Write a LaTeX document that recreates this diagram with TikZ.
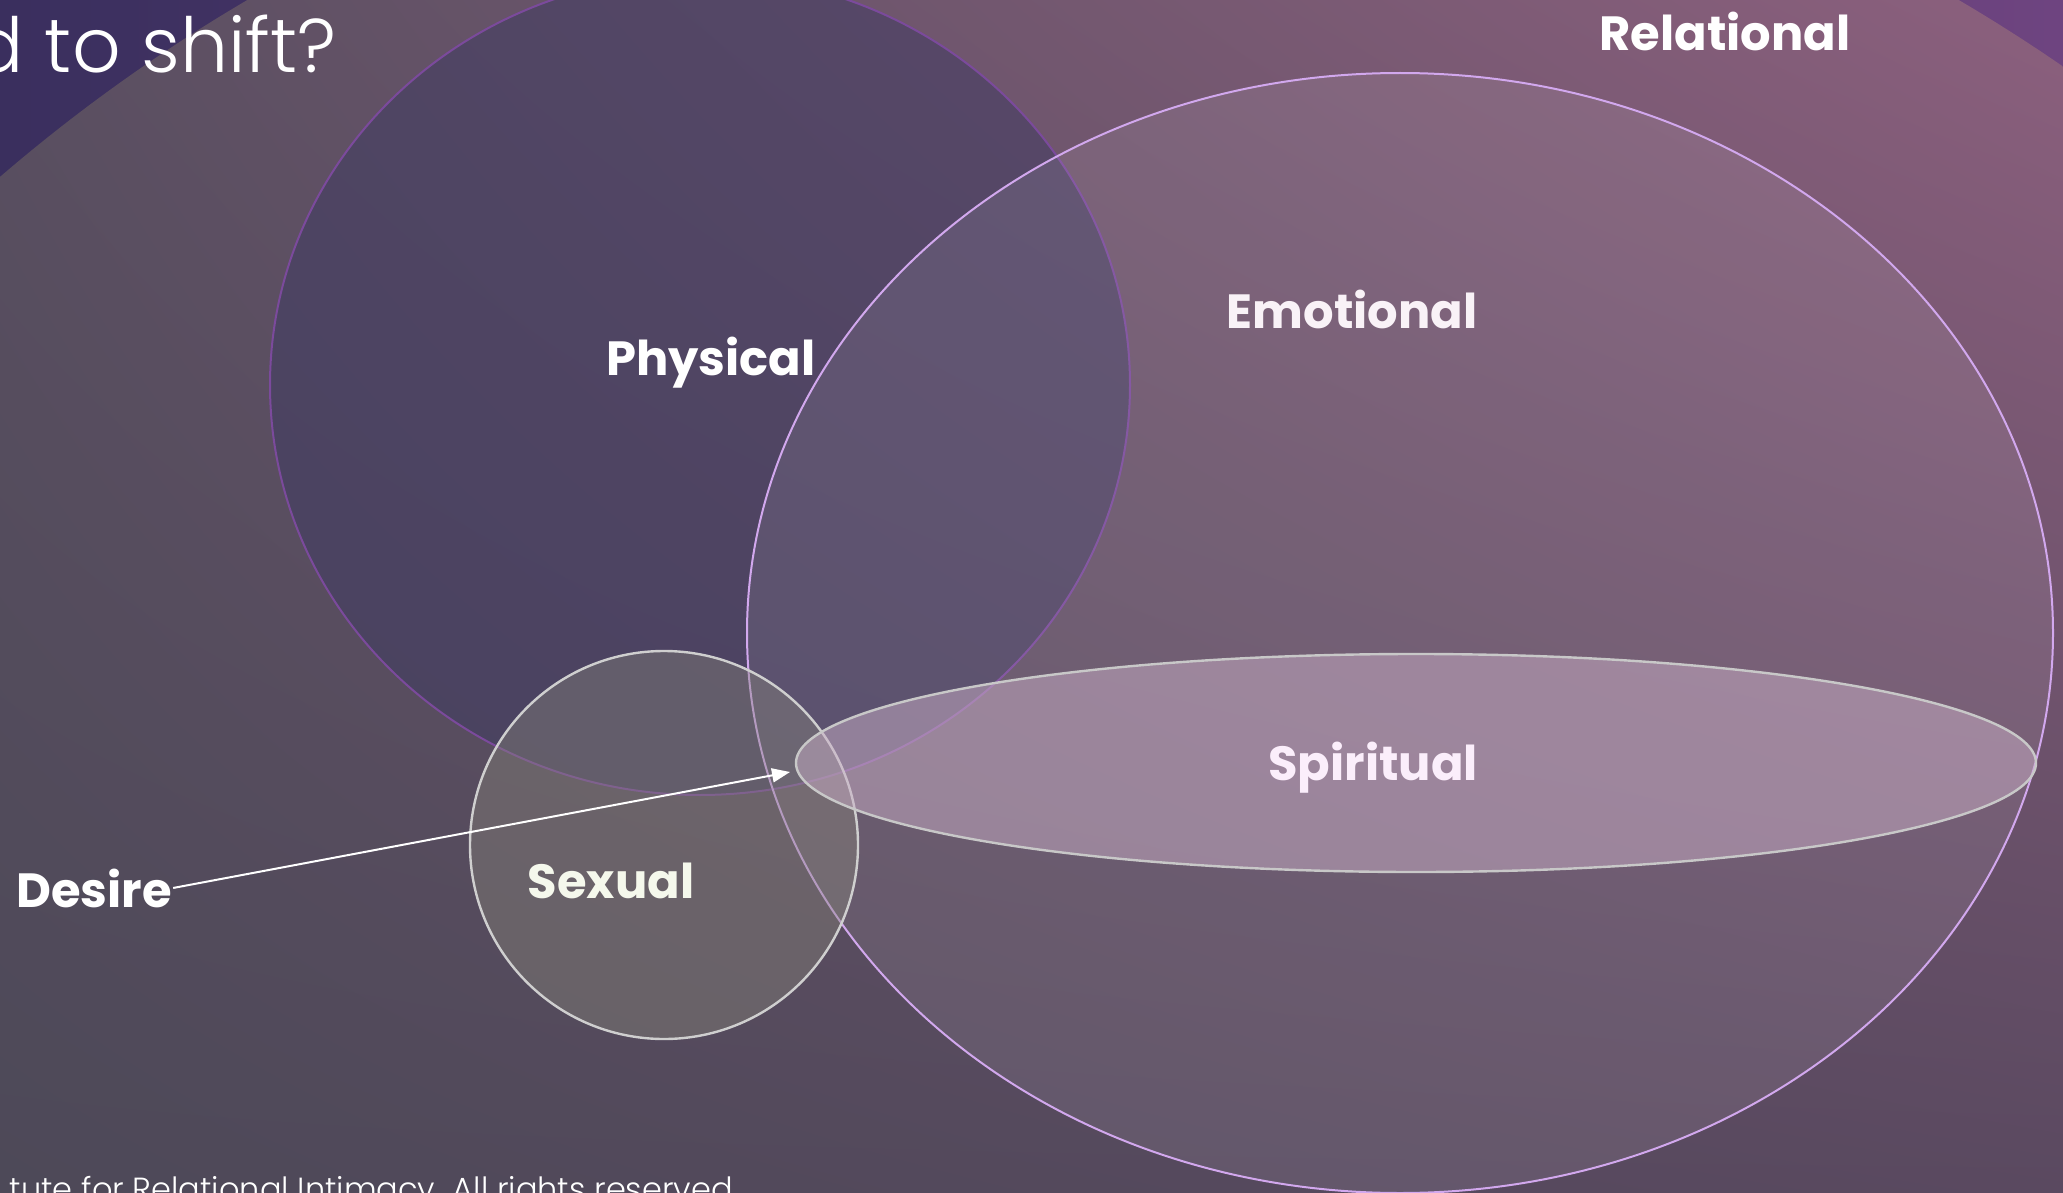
\documentclass[tikz,border=0pt]{standalone}
\usepackage{fontspec}
\setmainfont{Poppins}
\newfontfamily\poplight{Poppins Light}
\usetikzlibrary{arrows.meta,shapes.geometric,shadings}
\definecolor{navyc}{HTML}{3A2F5E}
\definecolor{purplec}{HTML}{6E4480}
\definecolor{bgUL}{HTML}{5A4F61}
\definecolor{bgUR}{HTML}{8C607E}
\definecolor{bgLL}{HTML}{4D4958}
\definecolor{bgLR}{HTML}{5A4960}
\definecolor{physfill}{HTML}{3E3A62}
\definecolor{physdraw}{HTML}{7B4A9C}
\definecolor{emofill}{HTML}{E6DCE8}
\definecolor{emodraw}{HTML}{D2A8EE}
\definecolor{sexfill}{HTML}{87857A}
\definecolor{sexdraw}{HTML}{CFCFCF}
\definecolor{spirfill}{HTML}{C9AEC6}
\definecolor{spirdraw}{HTML}{C8C8C8}
\definecolor{emotext}{HTML}{F9F2F7}
\definecolor{spirtext}{HTML}{FBEEFB}
\definecolor{sextext}{HTML}{F5F8EC}
\tikzset{
  area/.style={ellipse, inner sep=0pt, outer sep=0pt},
  lbl/.style={anchor=base, inner sep=0pt, text=white, font=\fontsize{24pt}{28pt}\selectfont\bfseries},
}
\begin{document}
\begin{tikzpicture}[x=0.5pt,y=-0.5pt]
\useasboundingbox (0,0) rectangle (2063,1193);
\shade[left color=navyc, right color=purplec] (0,0) rectangle (2063,1193);
\begin{scope}
  \clip (1103,1460) circle [radius=1692];
  \shade[upper left=bgUL, upper right=bgUR, lower left=bgLL, lower right=bgLR] (0,0) rectangle (2063,1193);
\end{scope}
% areas
\node[area, minimum width=430pt, minimum height=410pt, fill=physfill, fill opacity=0.5, draw=physdraw, line width=1pt] (physical) at (700,385) {};
\node[area, minimum width=653pt, minimum height=560pt, fill=emofill, fill opacity=0.1, draw=emodraw, line width=1pt] (emotional) at (1400,633) {};
\node[area, circle, minimum size=194pt, fill=sexfill, fill opacity=0.4, draw=sexdraw, line width=1.2pt] (sexual) at (664,845) {};
\node[area, minimum width=620pt, minimum height=109pt, fill=spirfill, fill opacity=0.5, draw=spirdraw, line width=1.2pt] (spiritual) at (1416,763) {};
% labels
\node[lbl] (relationalL) at (1725,51) {Relational};
\node[lbl, text=emotext] (emotionalL) at (1352,328) {Emotional};
\node[lbl] (physicalL) at (711,375) {Physical};
\node[lbl, text=spirtext] (spiritualL) at (1373,780) {Spiritual};
\node[lbl, text=sextext] (sexualL) at (611,898) {Sexual};
\node[lbl] (desireL) at (94,907) {Desire};
\coordinate (tip) at (790,772);
\draw[white, line width=1pt, -{Stealth[length=9pt, width=7pt, inset=0pt]}] (desireL.east) ++(1,0) -- (tip);
% title and footer
\node[anchor=base east, inner sep=0pt, text=white, font=\poplight\fontsize{38pt}{45pt}\selectfont] (title) at (337,73) {d to shift?};
\node[anchor=base east, inner sep=0pt, text=white, font=\poplight\fontsize{16pt}{19pt}\selectfont] (footer) at (739,1200) {tute for Relational Intimacy. All rights reserved.};
\end{tikzpicture}
\end{document}
